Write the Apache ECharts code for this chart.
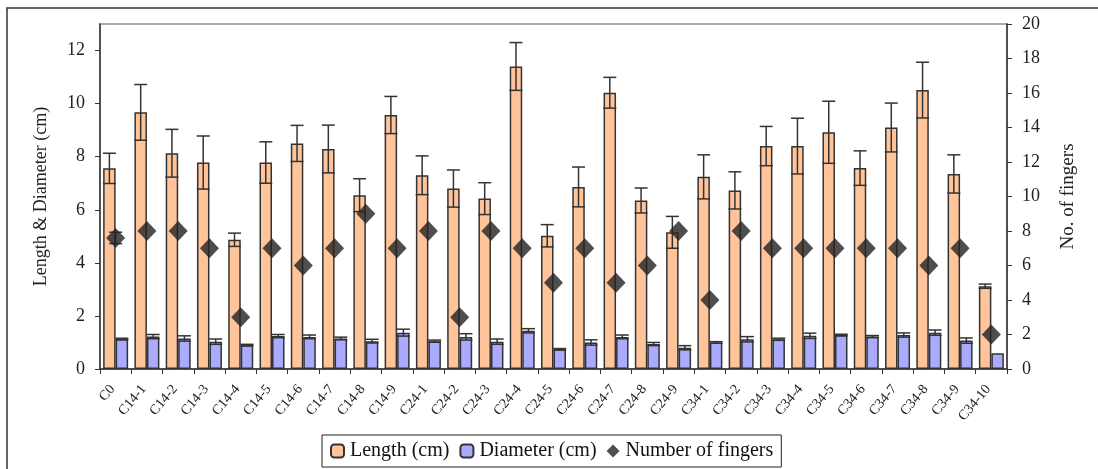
<!DOCTYPE html>
<html><head><meta charset="utf-8">
<script src="https://cdn.jsdelivr.net/npm/echarts@6/dist/echarts.min.js"></script>
<style>html,body{margin:0;padding:0;background:#fff}#c{width:1098px;height:469px}</style>
</head><body><div id="c"></div>
<script>
const categories = ['C0','C14-1','C14-2','C14-3','C14-4','C14-5','C14-6','C14-7','C14-8','C14-9',
  'C24-1','C24-2','C24-3','C24-4','C24-5','C24-6','C24-7','C24-8','C24-9',
  'C34-1','C34-2','C34-3','C34-4','C34-5','C34-6','C34-7','C34-8','C34-9','C34-10'];
const lengthVals = [7.56,9.67,8.13,7.78,4.87,7.78,8.5,8.29,6.55,9.57,7.3,6.8,6.42,11.4,5.02,6.86,10.41,6.35,5.15,7.24,6.73,8.4,8.4,8.92,7.57,9.1,10.51,7.35,3.12];
const lengthErr = [0.57,1.05,0.9,1.0,0.25,0.78,0.68,0.9,0.62,0.7,0.73,0.7,0.6,0.9,0.42,0.75,0.58,0.47,0.6,0.83,0.7,0.74,1.05,1.17,0.65,0.92,1.05,0.72,0.08];
const diamVals = [1.13,1.22,1.15,1.03,0.9,1.24,1.21,1.15,1.05,1.37,1.05,1.21,1.03,1.44,0.74,1.0,1.21,0.94,0.8,1.0,1.12,1.12,1.25,1.28,1.22,1.28,1.37,1.07,0.59];
const diamErr = [0.03,0.08,0.1,0.1,0.03,0.06,0.07,0.05,0.07,0.13,0.04,0.12,0.1,0.08,0.03,0.1,0.07,0.06,0.08,0.03,0.1,0.04,0.1,0.03,0.04,0.08,0.1,0.1,0];
const fingers = [7.6,8,8,7,3,7,6,7,9,7,8,3,8,7,5,7,5,6,8,4,8,7,7,7,7,7,6,7,2];
const fingersErr = [0.33,0,0,0,0,0,0,0,0,0,0,0,0,0,0,0,0,0,0,0,0,0,0,0,0,0,0,0,0];
const leftTicks = [0,2,4,6,8,10,12];

const FONT = 'Liberation Serif';
const BW = 12.5;
function errSeries(vals, errs, yIdx, offset){
  return {
    type:'custom', yAxisIndex:yIdx, z:5, silent:true,
    data: vals.map((v,i)=>[i,v,errs[i]]),
    encode:{x:0,y:1},
    renderItem:function(params, api){
      const e = api.value(2); if(!e) return;
      const i = api.value(0), v = api.value(1);
      const p = api.coord([i, v+e]), q = api.coord([i, v-e]);
      const x = p[0] + offset, h = 6.5;
      const st = {stroke:'#333', lineWidth:1.5};
      return {type:'group', children:[
        {type:'line', shape:{x1:x,y1:p[1],x2:x,y2:q[1]}, style:st},
        {type:'line', shape:{x1:x-h,y1:p[1],x2:x+h,y2:p[1]}, style:st},
        {type:'line', shape:{x1:x-h,y1:q[1],x2:x+h,y2:q[1]}, style:st}
      ]};
    }
  };
}
const chart = echarts.init(document.getElementById('c'));
chart.setOption({
  animation:false,
  backgroundColor:'#fff',
  textStyle:{fontFamily:FONT},
  graphic:[{type:'rect', shape:{x:7,y:8,width:1110,height:480}, style:{fill:'none',stroke:'#333',lineWidth:1.5}, z:-1}],
  grid:{left:100,right:91,top:24,bottom:100, show:true, borderColor:'#aaa', borderWidth:2},
  legend:{
    data:['Length (cm)','Diameter (cm)','Number of fingers'],
    left:322, top:435, padding:[6,8,6,8], itemGap:10, itemWidth:13, itemHeight:13,
    borderColor:'#222', borderWidth:1, backgroundColor:'#fff',
    textStyle:{fontFamily:FONT, fontSize:20, color:'#111', padding:[0,0,0,1]}
  },
  xAxis:{
    type:'category', data:categories,
    axisLine:{lineStyle:{color:'#333',width:1.5}},
    axisTick:{show:true, length:5, lineStyle:{color:'#333'}},
    axisLabel:{rotate:50, fontFamily:FONT, fontSize:14, color:'#222', margin:14, padding:[0,5,0,0], interval:0}
  },
  yAxis:[{
    type:'value', min:0, max:13, interval:2,
    name:'Length & Diameter (cm)', nameLocation:'middle', nameRotate:90, nameGap:50,
    nameTextStyle:{fontFamily:FONT, fontSize:18, color:'#222'},
    axisLine:{show:true, lineStyle:{color:'#333',width:1.5}},
    axisTick:{show:true, length:5, customValues:leftTicks, lineStyle:{color:'#333'}},
    axisLabel:{customValues:leftTicks, fontFamily:FONT, fontSize:18, color:'#222', margin:15},
    splitLine:{show:false}
  },{
    type:'value', min:0, max:20, interval:2, position:'right',
    name:'No. of fingers', nameLocation:'middle', nameRotate:90, nameGap:52,
    nameTextStyle:{fontFamily:FONT, fontSize:19, color:'#222'},
    axisLine:{show:true, lineStyle:{color:'#333',width:1.5}},
    axisTick:{show:true, length:5, lineStyle:{color:'#333'}},
    axisLabel:{fontFamily:FONT, fontSize:18, color:'#222', margin:15},
    splitLine:{show:false}
  }],
  series:[
    {name:'Length (cm)', type:'bar', data:lengthVals, barWidth:BW, barGap:'0%',
     itemStyle:{color:'#FFC499', borderColor:'#333', borderWidth:1.5}},
    {name:'Diameter (cm)', type:'bar', data:diamVals, barWidth:BW, barGap:'0%',
     itemStyle:{color:'#AAAAFF', borderColor:'#333', borderWidth:1.5}},
    errSeries(lengthVals, lengthErr, 0, -BW/2),
    errSeries(diamVals, diamErr, 0, BW/2),
    {name:'Number of fingers', type:'scatter', yAxisIndex:1, data:fingers, symbol:'diamond', symbolSize:[19,20], z:6,
     itemStyle:{color:'#222'}},
    errSeries(fingers, fingersErr, 1, 0)
  ]
});
</script></body></html>
